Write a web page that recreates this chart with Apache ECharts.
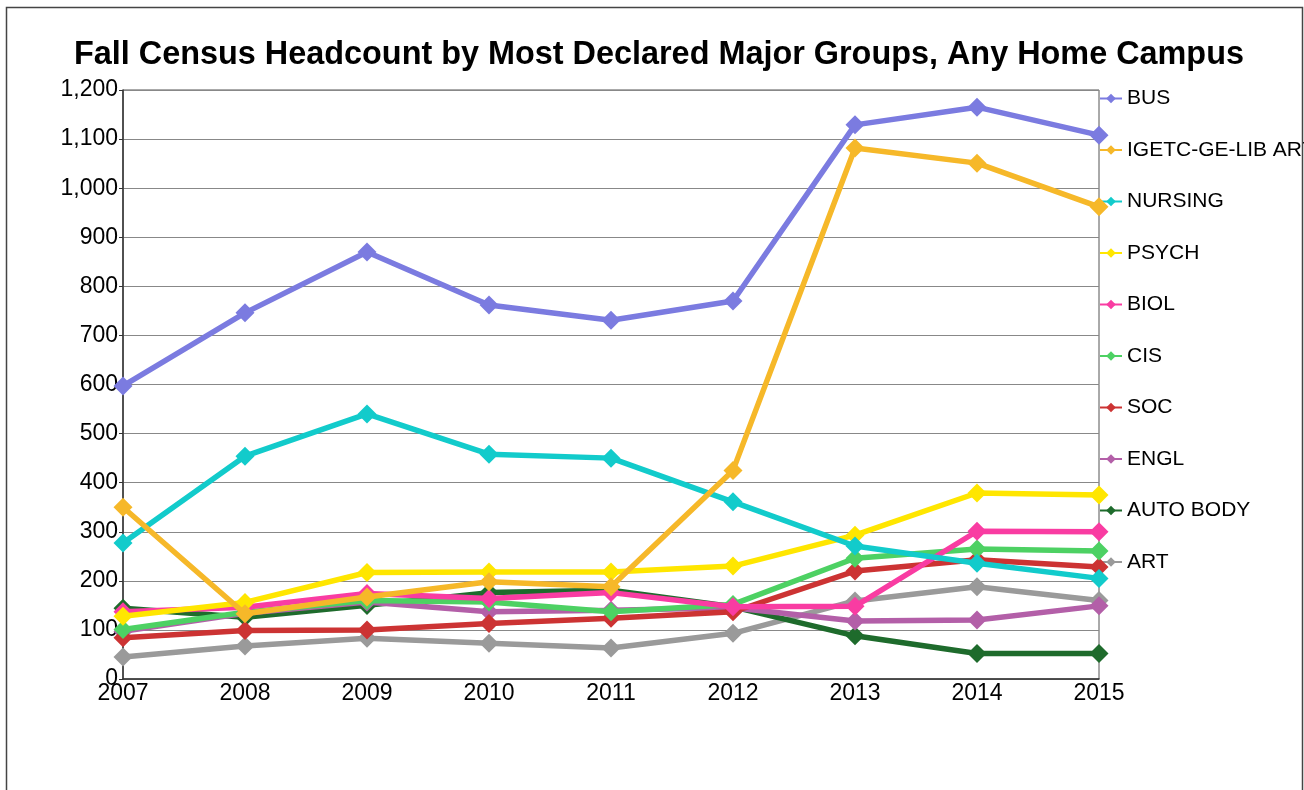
<!DOCTYPE html>
<html>
<head>
<meta charset="utf-8">
<title>Fall Census Headcount</title>
<script src="https://cdn.jsdelivr.net/npm/echarts@6/dist/echarts.min.js"></script>
<style>
  html, body { margin: 0; padding: 0; background: #fff; }
</style>
</head>
<body>
<div id="lineChart" style="width: 1304px; height: 790px;"></div>
<script>
// data
const years = ['2007', '2008', '2009', '2010', '2011', '2012', '2013', '2014', '2015']
const names = ['BUS', 'IGETC-GE-LIB ARTS', 'NURSING', 'PSYCH', 'BIOL', 'CIS', 'SOC', 'ENGL', 'AUTO BODY', 'ART']
const bus = [597, 746, 870, 762, 731, 770, 1129, 1165, 1108]
const igetc = [350, 133, 167, 198, 188, 425, 1082, 1051, 962]
const nursing = [277, 454, 540, 458, 450, 361, 271, 236, 205]
const psych = [128, 156, 217, 218, 218, 230, 293, 379, 375]
const biol = [137, 146, 174, 164, 176, 147, 148, 301, 300]
const cis = [101, 136, 160, 157, 137, 152, 246, 265, 261]
const soc = [84, 99, 100, 113, 124, 137, 220, 243, 228]
const engl = [97, 134, 157, 137, 140, 145, 118, 120, 149]
const autoBody = [144, 126, 150, 176, 181, 147, 88, 52, 52]
const art = [45, 67, 83, 73, 63, 93, 159, 188, 160]
const colors = ['#7b7be0', '#f6b829', '#12cbcb', '#ffe600', '#f93ca2', '#4dd163', '#cc3333', '#b35fa8', '#1e6b2c', '#9a9a9a']

const values = [bus, igetc, nursing, psych, biol, cis, soc, engl, autoBody, art]

let lineChart = echarts.init(document.getElementById('lineChart'))

// first series in legend sits on top
let series = values.map(function (v, i) {
  return {
    name: names[i],
    type: 'line',
    data: v,
    z: 20 - i,
    symbol: 'diamond',
    symbolSize: 19,
    lineStyle: { width: 5.5, color: colors[i] },
    itemStyle: { color: colors[i] }
  }
})

lineChart.setOption({
  backgroundColor: '#fff',
  animation: false,
  textStyle: { fontFamily: 'Liberation Sans, Arial, sans-serif' },
  title: {
    text: 'Fall Census Headcount by Most Declared Major Groups, Any Home Campus',
    left: 654,
    textAlign: 'center',
    top: 34,
    textStyle: { fontSize: 32.4, fontWeight: 'bold', color: '#000' }
  },
  graphic: [{
    type: 'rect',
    shape: { x: 6.5, y: 7.5, width: 1296, height: 800 },
    style: { fill: 'none', stroke: '#444', lineWidth: 1.5 },
    z: 100
  }],
  legend: {
    data: names,
    orient: 'vertical',
    left: 1099,
    top: 88,
    padding: 0,
    itemWidth: 22,
    itemHeight: 12,
    itemGap: 30.5,
    textStyle: { fontSize: 21, color: '#000', lineHeight: 21 }
  },
  grid: {
    left: 123,
    right: 205,
    top: 90,
    bottom: 111,
    show: true,
    borderColor: '#555',
    borderWidth: 1
  },
  xAxis: {
    type: 'category',
    data: years,
    boundaryGap: false,
    axisLine: { lineStyle: { color: '#333', width: 1.5 } },
    axisTick: { show: false },
    axisLabel: { color: '#000', fontSize: 23, margin: 3 }
  },
  yAxis: {
    type: 'value',
    min: 0,
    max: 1200,
    interval: 100,
    axisLine: { show: true, lineStyle: { color: '#333', width: 1.5 } },
    axisTick: { show: true, length: 4, lineStyle: { color: '#333' } },
    axisLabel: {
      color: '#000',
      fontSize: 23,
      margin: 5,
      formatter: function (v) { return v.toLocaleString('en-US') }
    },
    splitLine: { lineStyle: { color: '#888', width: 1 } }
  },
  series: series
})
</script>
</body>
</html>
